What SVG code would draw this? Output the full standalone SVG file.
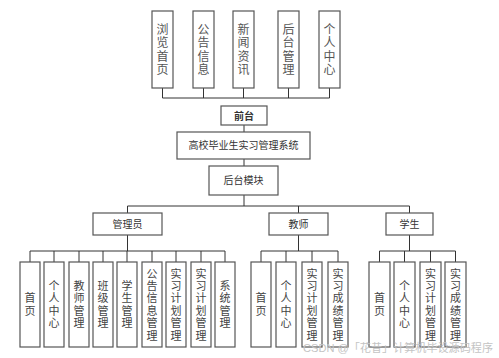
<svg xmlns="http://www.w3.org/2000/svg" width="499" height="358" viewBox="0 0 499 358">
<style>
.bg{fill:#ffffff}
.box{fill:#ffffff;stroke:#555555;stroke-width:1.2}
.ln{fill:none;stroke:#333333;stroke-width:1}
.vt{font-family:"Noto Sans CJK SC","Noto Sans",sans-serif;font-size:12px;fill:#555555;text-anchor:middle;writing-mode:vertical-rl;letter-spacing:1.5px}
.ct{font-family:"Noto Sans CJK SC","Noto Sans",sans-serif;font-size:11px;fill:#444444;text-anchor:middle;writing-mode:vertical-rl;letter-spacing:1.4px}
.lb{font-family:"Noto Sans CJK SC","Noto Sans",sans-serif;font-size:10px;fill:#333333;text-anchor:middle}
.bd{font-weight:bold}
.wm{font-family:"Liberation Sans","Noto Sans CJK SC",sans-serif;font-size:11.5px;fill:#c4c4c4}
</style>
<rect class="bg" x="0" y="0" width="499" height="358"/>

<g id="connectors">
<path class="ln" d="M162.5 88V98M203.5 88V98M243.5 88V98M288.5 88V98M329.5 88V98M162.5 98H329.5"/>
<path class="ln" d="M244 125V132M244 159V166M244 195V206M127.5 206H409.5M127.5 206V213M298.5 206V213M409.5 206V213"/>
<path class="ln" d="M127.5 235V251M30 251H225M30 251V262M54 251V262M79 251V262M103 251V262M127 251V262M152 251V262M176 251V262M201 251V262M225 251V262"/>
<path class="ln" d="M298.5 235V251M261 251H338M261 251V262M286 251V262M312 251V262M338 251V262"/>
<path class="ln" d="M409.5 235V251M379.5 251H455.5M379.5 251V262M404.5 251V262M430.5 251V262M455.5 251V262"/>
</g>

<g id="n-browse"><rect class="box" x="152" y="11" width="21" height="77"/><text class="vt" x="162.5" y="50.2">浏览首页</text></g>
<g id="n-notice"><rect class="box" x="193" y="11" width="21" height="77"/><text class="vt" x="203.5" y="50.2">公告信息</text></g>
<g id="n-news"><rect class="box" x="233" y="11" width="21" height="77"/><text class="vt" x="243.5" y="50.2">新闻资讯</text></g>
<g id="n-backend"><rect class="box" x="278" y="11" width="21" height="77"/><text class="vt" x="288.5" y="50.2">后台管理</text></g>
<g id="n-personal"><rect class="box" x="319" y="11" width="21" height="77"/><text class="vt" x="329.5" y="50.2">个人中心</text></g>

<g id="n-front"><rect class="box" x="221" y="106" width="46" height="19"/><text class="lb bd" x="244" y="119.5">前台</text></g>
<g id="n-system"><rect class="box" x="177" y="132" width="133" height="27"/><text class="lb" x="243.5" y="149.3">高校毕业生实习管理系统</text></g>
<g id="n-backmod"><rect class="box" x="209" y="166" width="69" height="29"/><text class="lb" x="243.5" y="184.3">后台模块</text></g>

<g id="n-admin"><rect class="box" x="93" y="213" width="69" height="22"/><text class="lb" x="127.5" y="227.8">管理员</text></g>
<g id="n-teacher"><rect class="box" x="269" y="213" width="59" height="22"/><text class="lb" x="298.5" y="227.8">教师</text></g>
<g id="n-student"><rect class="box" x="386" y="213" width="47" height="22"/><text class="lb" x="409.5" y="227.8">学生</text></g>

<g id="a1"><rect class="box" x="20" y="262" width="20" height="85"/><text class="ct" x="30" y="305.2">首页</text></g>
<g id="a2"><rect class="box" x="44" y="262" width="20" height="85"/><text class="ct" x="54" y="305.2">个人中心</text></g>
<g id="a3"><rect class="box" x="69" y="262" width="20" height="85"/><text class="ct" x="79" y="305.2">教师管理</text></g>
<g id="a4"><rect class="box" x="93" y="262" width="20" height="85"/><text class="ct" x="103" y="305.2">班级管理</text></g>
<g id="a5"><rect class="box" x="117" y="262" width="20" height="85"/><text class="ct" x="127" y="305.2">学生管理</text></g>
<g id="a6"><rect class="box" x="142" y="262" width="20" height="85"/><text class="ct" x="152" y="305.2">公告信息管理</text></g>
<g id="a7"><rect class="box" x="166" y="262" width="20" height="85"/><text class="ct" x="176" y="305.2">实习计划管理</text></g>
<g id="a8"><rect class="box" x="191" y="262" width="20" height="85"/><text class="ct" x="201" y="305.2">实习计划管理</text></g>
<g id="a9"><rect class="box" x="215" y="262" width="20" height="85"/><text class="ct" x="225" y="305.2">系统管理</text></g>

<g id="t1"><rect class="box" x="251" y="262" width="20" height="85"/><text class="ct" x="261" y="305.2">首页</text></g>
<g id="t2"><rect class="box" x="276" y="262" width="20" height="85"/><text class="ct" x="286" y="305.2">个人中心</text></g>
<g id="t3"><rect class="box" x="302" y="262" width="20" height="85"/><text class="ct" x="312" y="305.2">实习计划管理</text></g>
<g id="t4"><rect class="box" x="328" y="262" width="20" height="85"/><text class="ct" x="338" y="305.2">实习成绩管理</text></g>

<g id="s1"><rect class="box" x="369" y="262" width="21" height="85"/><text class="ct" x="379.5" y="305.2">首页</text></g>
<g id="s2"><rect class="box" x="394" y="262" width="21" height="85"/><text class="ct" x="404.5" y="305.2">个人中心</text></g>
<g id="s3"><rect class="box" x="420" y="262" width="21" height="85"/><text class="ct" x="430.5" y="305.2">实习计划管理</text></g>
<g id="s4"><rect class="box" x="445" y="262" width="21" height="85"/><text class="ct" x="455.5" y="305.2">实习成绩管理</text></g>

<text class="wm" x="303" y="352" textLength="190" lengthAdjust="spacingAndGlyphs">CSDN @「花昔」计算机毕设源码程序</text>
</svg>
